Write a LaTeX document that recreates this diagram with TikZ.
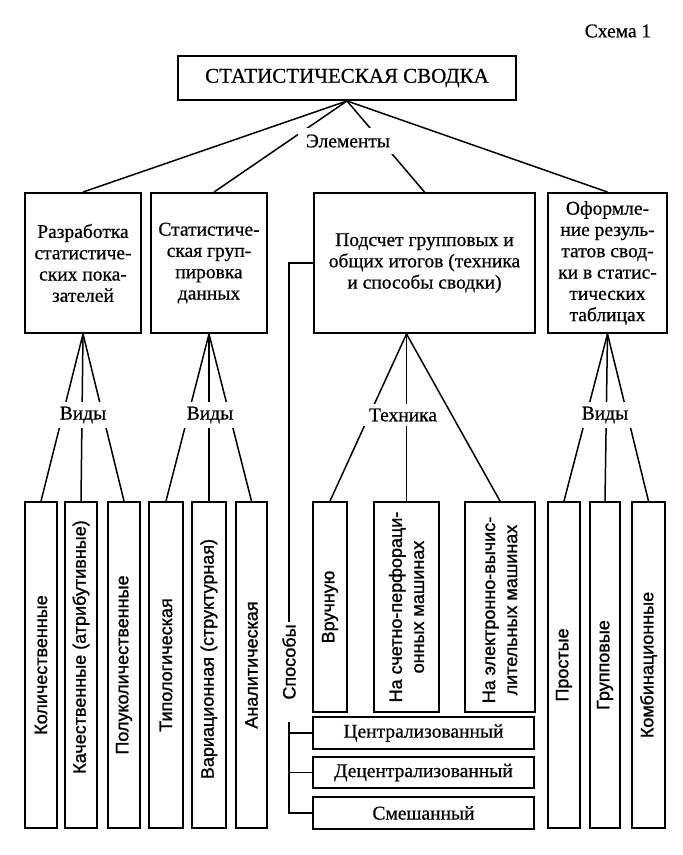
\documentclass[tikz,border=0pt]{standalone}
\usepackage{fontspec}
\setmainfont{Liberation Serif}
\newfontface\serfam{Liberation Serif}[FakeBold=0.6]
\newfontface\sansfam{Liberation Sans}[FakeBold=1.2]
\newcommand\txtser{\serfam\fontsize{19.5}{21.3}\selectfont}
\newcommand\txtttl{\serfam\fontsize{21}{23}\selectfont}
\newcommand\txtsans{\sansfam\fontsize{18}{22}\selectfont}
\begin{document}
\begin{tikzpicture}[x=1pt,y=-1pt,
  box/.style={draw, line width=1.9pt, inner sep=0pt, align=center, font=\txtser},
  vbox/.style={draw, line width=1.9pt, inner sep=0pt},
  vtxt/.style={rotate=90, inner sep=0pt, font=\txtsans},
  conn/.style={line width=1.5pt},
  lbl/.style={fill=white, inner xsep=4pt, inner ysep=5pt, font=\txtser}
]
\useasboundingbox (0,0) rectangle (683,855);
\fill[white] (0,0) rectangle (683,855);

\node[font=\txtser, inner sep=0pt] (schema) at (618,31) {Схема 1};
\node[box, font=\txtttl, minimum width=338pt, minimum height=44pt] (top) at (347,78) {СТАТИСТИЧЕСКАЯ СВОДКА};

\node[box, minimum width=116pt, minimum height=140pt] (b1) at (83,263) {Разработка\\статистиче-\\ских пока-\\зателей};
\node[box, minimum width=116pt, minimum height=140pt] (b2) at (209,263) {Статистиче-\\ская груп-\\пировка\\данных};
\node[box, minimum width=221pt, minimum height=140pt] (b3) at (424.5,263) {Подсчет групповых и\\общих итогов (техника\\и способы сводки)};
\node[box, minimum width=119pt, minimum height=140pt] (b4) at (607.5,263) {Оформле-\\ние резуль-\\татов свод-\\ки в статис-\\тических\\таблицах};

% bottom boxes
\node[vbox, minimum width=32pt, minimum height=326pt] (k1) at (41,665) {};
\node[vbox, minimum width=32pt, minimum height=326pt] (k2) at (81,665) {};
\node[vbox, minimum width=32pt, minimum height=326pt] (k3) at (124,665) {};
\node[vbox, minimum width=34pt, minimum height=326pt] (k4) at (166,665) {};
\node[vbox, minimum width=34pt, minimum height=326pt] (k5) at (209,665) {};
\node[vbox, minimum width=31pt, minimum height=326pt] (k6) at (251.5,665) {};
\node[vbox, minimum width=34pt, minimum height=210pt] (t1) at (330,607) {};
\node[vbox, minimum width=65pt, minimum height=210pt] (t2) at (406.5,607) {};
\node[vbox, minimum width=70pt, minimum height=210pt] (t3) at (500,607) {};
\node[vbox, minimum width=32pt, minimum height=326pt] (v1) at (564,665) {};
\node[vbox, minimum width=30pt, minimum height=326pt] (v2) at (605,665) {};
\node[vbox, minimum width=33pt, minimum height=326pt] (v3) at (648.5,665) {};

\node[vtxt] (k1t) at (k1) {Количественные};
\node[vtxt] (k2t) at ([yshift=18pt]k2.center) {Качественные (атрибутивные)};
\node[vtxt] (k3t) at (k3) {Полуколичественные};
\node[vtxt] (k4t) at (k4) {Типологическая};
\node[vtxt] (k5t) at ([yshift=6pt]k5.center) {Вариационная (структурная)};
\node[vtxt] (k6t) at (k6) {Аналитическая};
\node[vtxt] (t1t) at (t1) {Вручную};
\node[vtxt, align=center] (t2t) at (t2) {На счетно-перфораци-\\онных машинах};
\node[vtxt, align=center] (t3t) at ([yshift=-3pt]t3.center) {На электронно-вычис-\\лительных машинах};
\node[vtxt] (v1t) at (v1) {Простые};
\node[vtxt] (v2t) at (v2) {Групповые};
\node[vtxt] (v3t) at (v3) {Комбинационные};

% methods boxes
\node[box, minimum width=221pt, minimum height=32pt] (c1) at (423.5,733) {Централизованный};
\node[box, minimum width=221pt, minimum height=31pt] (c2) at (423.5,772.5) {Децентрализованный};
\node[box, minimum width=221pt, minimum height=32pt] (c3) at (423.5,813) {Смешанный};

% connectors top
\draw[conn] (top.south) -- (b1.north);
\draw[conn] (top.south) -- ([xshift=5pt]b2.north);
\draw[conn] (top.south) -- (b3.north);
\draw[conn] (top.south) -- (b4.north);

\coordinate (ta) at (b3.south -| t2.north);
\foreach \t in {k1,k2,k3} \draw[conn] (b1.south) -- (\t.north);
\foreach \t in {k4,k5,k6} \draw[conn] (b2.south) -- (\t.north);
\foreach \t in {t1,t2,t3} \draw[conn] (ta) -- (\t.north);
\foreach \t in {v1,v2,v3} \draw[conn] (b4.south) -- (\t.north);

% labels
\node[lbl, inner xsep=8pt, inner ysep=6pt] (el) at (348,141) {Элементы};
\node[lbl] (vid1) at (83,415) {Виды};
\node[lbl] (vid2) at (210,415) {Виды};
\node[lbl, inner xsep=6pt] (tech) at (403,415) {Техника};
\node[lbl] (vid4) at (605,415) {Виды};

% methods
\node[vtxt, inner sep=2pt] (sp) at (289,662) {Способы};
\draw[conn] (b3.west) -| (sp.east);
\coordinate (br) at (289,722);
\draw[conn] (br) |- (c3.west);
\draw[conn] (br |- c1.west) -- (c1.west);
\draw[conn] (br |- c2.west) -- (c2.west);
\end{tikzpicture}
\end{document}
